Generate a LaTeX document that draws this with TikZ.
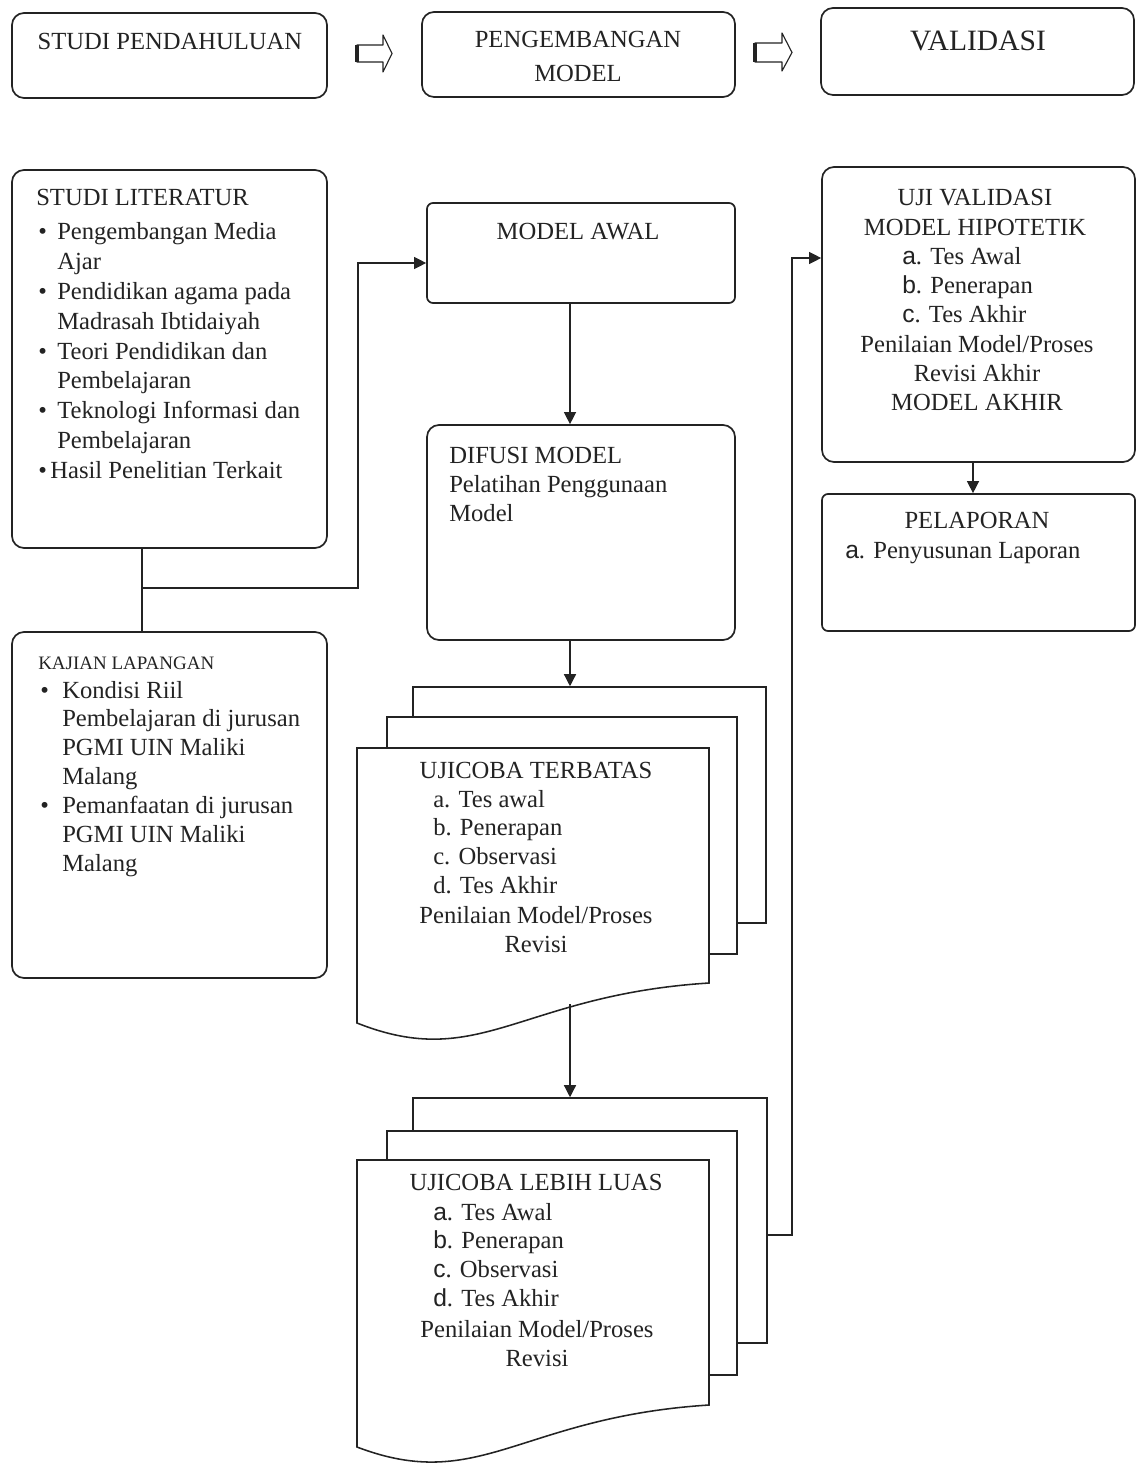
\documentclass[tikz,border=0pt]{standalone}
\usepackage{fontspec}
\setmainfont{Liberation Serif}
\newfontfamily\sfa{Liberation Sans}
\usetikzlibrary{fit,arrows.meta,calc}
\definecolor{ink}{RGB}{35,35,35}
\newcommand\fsz[1]{\fontsize{17.5}{#1}\selectfont}
\begin{document}
\begin{tikzpicture}[x=0.025cm,y=-0.025cm,
  box/.style={draw=ink, line width=1.2pt, rounded corners=0.3cm, inner sep=0pt, fill=white},
  sbox/.style={draw=ink, line width=1.2pt, rounded corners=0.15cm, inner sep=0pt, fill=white},
  sheet/.style={draw=ink, line width=1.1pt, fill=white, inner sep=0pt},
  txt/.style={inner sep=0pt, text=ink, font=\fsz{21}},
  line/.style={draw=ink, line width=0.9pt},
  arr/.style={line, -{Triangle[length=0.3cm,width=0.3cm]}},
  blockarr/.style={draw=ink, line width=0.8pt, fill=white, line join=round}
]
\useasboundingbox (0,0) rectangle (1140,1463);

% ---------- top row ----------
\node[box, fit={(12,13)(327,98)}] (pend) {};
\node[box, fit={(422,12)(735,97)}] (peng) {};
\node[box, fit={(821,8)(1134,95)}] (val) {};
\node[txt, anchor=base] (pendT) at (170,50) {STUDI PENDAHULUAN};
\node[txt, anchor=base] (pengT) at (578,48) {\fsz{23.5}\begin{tabular}[t]{@{}c@{}}PENGEMBANGAN\\MODEL\end{tabular}};
\node[txt, anchor=base, font=\fontsize{21}{25}\selectfont] (valT) at (978,51) {VALIDASI};

% hollow block arrows
\draw[blockarr] (357,45) -- (383,45) -- (383,35) -- (392,53.5) -- (383,72) -- (383,62) -- (357,62) -- cycle;
\draw[ink, line width=3pt] (357,45) -- (357,62);
\draw[blockarr] (755,43) -- (782,43) -- (782,33) -- (792,52.5) -- (782,71) -- (782,62) -- (755,62) -- cycle;
\draw[ink, line width=3pt] (755,43) -- (755,62);

% ---------- left column ----------
\node[box, fit={(12,170)(327,548)}] (lit) {};
\node[txt, anchor=base west] (litT) at (36,206) {STUDI LITERATUR};
\node[txt, anchor=base west] (litL) at (38,240) {\fsz{21.16}\begin{tabular}[t]{@{}p{0.475cm}@{}l@{}}
\textbullet & Pengembangan Media\\
 & Ajar\\
\textbullet & Pendidikan agama pada\\
 & Madrasah Ibtidaiyah\\
\textbullet & Teori Pendidikan dan\\
 & Pembelajaran\\
\textbullet & Teknologi Informasi dan\\
 & Pembelajaran\\
\multicolumn{2}{@{}l@{}}{\textbullet\hspace{2.5pt}Hasil Penelitian Terkait}
\end{tabular}};

\node[box, fit={(12,632)(327,978)}] (kaj) {};
\node[txt, anchor=base west, font=\fontsize{13.5}{16}\selectfont] (kajT) at (38,669) {KAJIAN LAPANGAN};
\node[txt, anchor=base west] (kajL) at (40,698) {\fsz{20.6}\begin{tabular}[t]{@{}p{0.55cm}@{}l@{}}
\textbullet & Kondisi Riil\\
 & Pembelajaran di jurusan\\
 & PGMI UIN Maliki\\
 & Malang\\
\textbullet & Pemanfaatan di jurusan\\
 & PGMI UIN Maliki\\
 & Malang
\end{tabular}};

% ---------- middle column ----------
\node[sbox, fit={(427,203)(735,303)}] (awal) {};
\node[txt, anchor=base] (awalT) at (578,240) {MODEL AWAL};

\node[box, fit={(427,425)(735,640)}] (dif) {};
\node[txt, anchor=base west] (difT) at (449,463) {\fsz{20.85}\begin{tabular}[t]{@{}l@{}}
DIFUSI MODEL\\Pelatihan Penggunaan\\Model\end{tabular}};

% UJICOBA TERBATAS (stacked documents)
\node[sheet, fit={(413,687)(766,923)}] (t3) {};
\node[sheet, fit={(387,717)(737,954)}] (t2) {};
\draw[sheet] (357,748) -- (709,748) -- (709,983)
  .. controls (520,995) and (480,1072) .. (357,1023) -- cycle;
\node[inner sep=0pt, fit={(357,748)(709,1040)}] (t1) {};
\node[txt, anchor=base] (t1T) at (536,778) {UJICOBA TERBATAS};
\node[txt, anchor=base west] (t1L) at (433,807) {\fsz{20.4}\begin{tabular}[t]{@{}l@{}}
a. Tes awal\\b. Penerapan\\c. Observasi\\d. Tes Akhir\end{tabular}};
\node[txt, anchor=base] (t1F) at (536,923) {\fsz{21.3}\begin{tabular}[t]{@{}c@{}}
Penilaian Model/Proses\\Revisi\end{tabular}};

% UJICOBA LEBIH LUAS
\node[sheet, fit={(413,1098)(767,1343)}] (l3) {};
\node[sheet, fit={(387,1131)(737,1375)}] (l2) {};
\draw[sheet] (357,1160) -- (709,1160) -- (709,1405)
  .. controls (520,1417) and (480,1494) .. (357,1447) -- cycle;
\node[inner sep=0pt, fit={(357,1160)(709,1460)}] (l1) {};
\node[txt, anchor=base] (l1T) at (536,1190) {UJICOBA LEBIH LUAS};
\node[txt, anchor=base west] (l1L) at (433,1220) {\fsz{20.6}\begin{tabular}[t]{@{}l@{}}
{\sfa a}. Tes Awal\\{\sfa b}. Penerapan\\{\sfa c}. Observasi\\{\sfa d}. Tes Akhir\end{tabular}};
\node[txt, anchor=base] (l1F) at (537,1337) {\fsz{21.3}\begin{tabular}[t]{@{}c@{}}
Penilaian Model/Proses\\Revisi\end{tabular}};

% ---------- right column ----------
\node[box, fit={(822,167)(1135,462)}] (uji) {};
\node[txt, anchor=base] (ujiT) at (975,206) {\fsz{21.3}\begin{tabular}[t]{@{}c@{}}
UJI VALIDASI\\MODEL HIPOTETIK\end{tabular}};
\node[txt, anchor=base west] (ujiL) at (902,265) {\fsz{20.6}\begin{tabular}[t]{@{}l@{}}
{\sfa a}. Tes Awal\\{\sfa b}. Penerapan\\{\sfa c}. Tes Akhir\end{tabular}};
\node[txt, anchor=base] (ujiF) at (977,353) {\fsz{20.3}\begin{tabular}[t]{@{}c@{}}
Penilaian Model/Proses\\Revisi Akhir\\MODEL AKHIR\end{tabular}};

\node[sbox, fit={(822,494)(1135,631)}] (pel) {};
\node[txt, anchor=base] (pelT) at (977,528) {PELAPORAN};
\node[txt, anchor=base west] (pelL) at (845,558) {{\sfa a}. Penyusunan Laporan};

% ---------- connectors ----------
\coordinate (jL) at (142,588);
\coordinate (jA) at (358,263);
\draw[line] (lit.south -| jL) -- (kaj.north -| jL);
\draw[arr] (jL) -| (jA) -- (awal.west |- jA);

\coordinate (cx) at (570,0);
\draw[arr] (awal.south -| cx) -- (dif.north -| cx);
\draw[arr] (dif.south -| cx) -- (t3.north -| cx);
\coordinate (t1b) at (570,1004);
\draw[arr] (t1b) -- (l3.north -| cx);

\coordinate (jC) at (792,1235);
\coordinate (jB) at (792,258);
\draw[arr] (l3.east |- jC) -- (jC) -- (jB) -- (uji.west |- jB);

\coordinate (cv) at (973,0);
\draw[arr] (uji.south -| cv) -- (pel.north -| cv);
\end{tikzpicture}
\end{document}
